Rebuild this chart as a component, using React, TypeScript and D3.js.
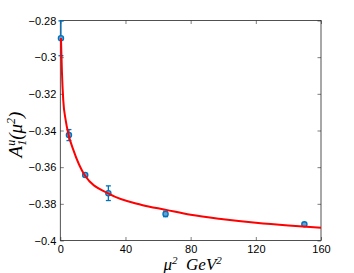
import React, { useEffect, useRef } from "react";
import * as d3 from "d3";

// measured points with error bars
const muSq = [0.4, 5.3, 15.3, 29.5, 64.6, 149.8];
const a1u = [-0.2897, -0.3425, -0.3643, -0.3742, -0.3855, -0.3912];
const a1uErr = [0.0095, 0.003, 0.0008, 0.004, 0.0015, 0.0006];

// fitted curve
const fitX = [0.4, 1, 1.8, 3.3, 5, 8, 15, 30, 50, 65, 80, 100, 120, 140, 160];
const fitY = [
  -0.2895, -0.308, -0.3233, -0.3343, -0.342, -0.3506, -0.3644, -0.3746, -0.3806,
  -0.3833, -0.386, -0.3884, -0.3903, -0.3918, -0.393,
];

const xTicks = [0, 40, 80, 120, 160];
const yTicks = [-0.28, -0.3, -0.32, -0.34, -0.36, -0.38, -0.4];

const App: React.FC = () => {
  const svgRef = useRef<SVGSVGElement | null>(null);

  useEffect(() => {
    if (!svgRef.current) return;
    const svg = d3.select(svgRef.current);
    svg.selectAll("*").remove();

    const width = 354;
    const height = 273;
    const margin = { top: 20.5, right: 33, bottom: 32.5, left: 60.3 };
    const tickLen = 3.5;

    const x = d3.scaleLinear().domain([0, 160]).range([margin.left, width - margin.right]);
    const y = d3.scaleLinear().domain([-0.4, -0.28]).range([height - margin.bottom, margin.top]);

    svg.append("rect").attr("width", width).attr("height", height).attr("fill", "#fff");

    const fmt = (v: number) => d3.format("")(v).replace("-", "\u2212");

    // bottom axis
    svg
      .append("g")
      .attr("transform", `translate(0,${y(-0.4)})`)
      .call(d3.axisBottom(x).tickValues(xTicks).tickSize(-tickLen).tickPadding(5).tickFormat((d) => `${d}`))
      .call((g) => g.select(".domain").remove());
    // top axis
    svg
      .append("g")
      .attr("transform", `translate(0,${y(-0.28)})`)
      .call(d3.axisTop(x).tickValues(xTicks).tickSize(-tickLen).tickFormat(() => ""))
      .call((g) => g.select(".domain").remove());
    // left axis
    svg
      .append("g")
      .attr("transform", `translate(${x(0)},0)`)
      .call(d3.axisLeft(y).tickValues(yTicks).tickSize(-tickLen).tickPadding(4).tickFormat((d) => fmt(d as number)))
      .call((g) => g.select(".domain").remove());
    // right axis
    svg
      .append("g")
      .attr("transform", `translate(${x(160)},0)`)
      .call(d3.axisRight(y).tickValues(yTicks).tickSize(-tickLen).tickFormat(() => ""))
      .call((g) => g.select(".domain").remove());

    svg
      .selectAll(".tick line")
      .attr("stroke", "#262626")
      .attr("stroke-width", 0.6);
    svg
      .selectAll(".tick text")
      .attr("fill", "#000")
      .attr("font-family", "Liberation Sans, Arial, sans-serif")
      .attr("font-size", 11);

    // box
    svg
      .append("rect")
      .attr("x", x(0))
      .attr("y", y(-0.28))
      .attr("width", x(160) - x(0))
      .attr("height", y(-0.4) - y(-0.28))
      .attr("fill", "none")
      .attr("stroke", "#262626")
      .attr("stroke-width", 0.8);

    // error bars
    const blue = "#0072BD";
    const pts = muSq.map((m, i) => ({ m, v: a1u[i], e: a1uErr[i] }));
    const eb = svg.append("g").attr("stroke", blue).attr("stroke-width", 1.3).attr("fill", "none");
    const cap = 2.5;
    pts.forEach((p) => {
      const top = Math.max(y(p.v + p.e), y(-0.28));
      const bot = y(p.v - p.e);
      eb.append("line").attr("x1", x(p.m)).attr("x2", x(p.m)).attr("y1", top).attr("y2", bot);
      eb.append("line").attr("x1", x(p.m) - cap).attr("x2", x(p.m) + cap).attr("y1", top).attr("y2", top);
      eb.append("line").attr("x1", x(p.m) - cap).attr("x2", x(p.m) + cap).attr("y1", bot).attr("y2", bot);
    });
    svg
      .append("g")
      .selectAll("circle")
      .data(pts)
      .join("circle")
      .attr("cx", (d) => x(d.m))
      .attr("cy", (d) => y(d.v))
      .attr("r", 2.6)
      .attr("fill", "#5fa2d6")
      .attr("stroke", blue)
      .attr("stroke-width", 1.3);

    // fit curve
    const line = d3
      .line<number>()
      .x((d) => x(d))
      .y((_, i) => y(fitY[i]))
      .curve(d3.curveMonotoneX);
    svg
      .append("path")
      .attr("d", line(fitX))
      .attr("fill", "none")
      .attr("stroke", "#ff0000")
      .attr("stroke-width", 2);

    // axis labels
    const xl = svg
      .append("text")
      .attr("x", (x(0) + x(160)) / 2 + 2)
      .attr("y", 270)
      .attr("text-anchor", "middle")
      .attr("font-family", "Liberation Serif, Times New Roman, serif")
      .attr("font-style", "italic")
      .attr("font-size", 17);
    xl.append("tspan").text("\u03bc");
    xl.append("tspan").attr("dy", -6).attr("font-size", 11).text("2");
    xl.append("tspan").attr("dy", 6).text("\u2002GeV");
    xl.append("tspan").attr("dy", -6).attr("font-size", 11).text("2");

    const yl = svg
      .append("text")
      .attr("transform", `translate(22,${(y(-0.28) + y(-0.4)) / 2 + 4}) rotate(-90)`)
      .attr("text-anchor", "middle")
      .attr("font-family", "Liberation Serif, Times New Roman, serif")
      .attr("font-style", "italic")
      .attr("font-size", 19);
    yl.append("tspan").text("A");
    yl.append("tspan").attr("dy", -7).attr("font-size", 12).text("u");
    yl.append("tspan").attr("dx", -6).attr("dy", 11).attr("font-size", 12).text("1");
    yl.append("tspan").attr("dy", -4).text("(\u03bc");
    yl.append("tspan").attr("dy", -7).attr("font-size", 12).text("2");
    yl.append("tspan").attr("dy", 7).text(")");
  }, []);

  return (
    <svg
      ref={svgRef}
      width={354}
      height={273}
      style={{ position: "absolute", left: 0, top: 0 }}
    ></svg>
  );
};

export default App;
